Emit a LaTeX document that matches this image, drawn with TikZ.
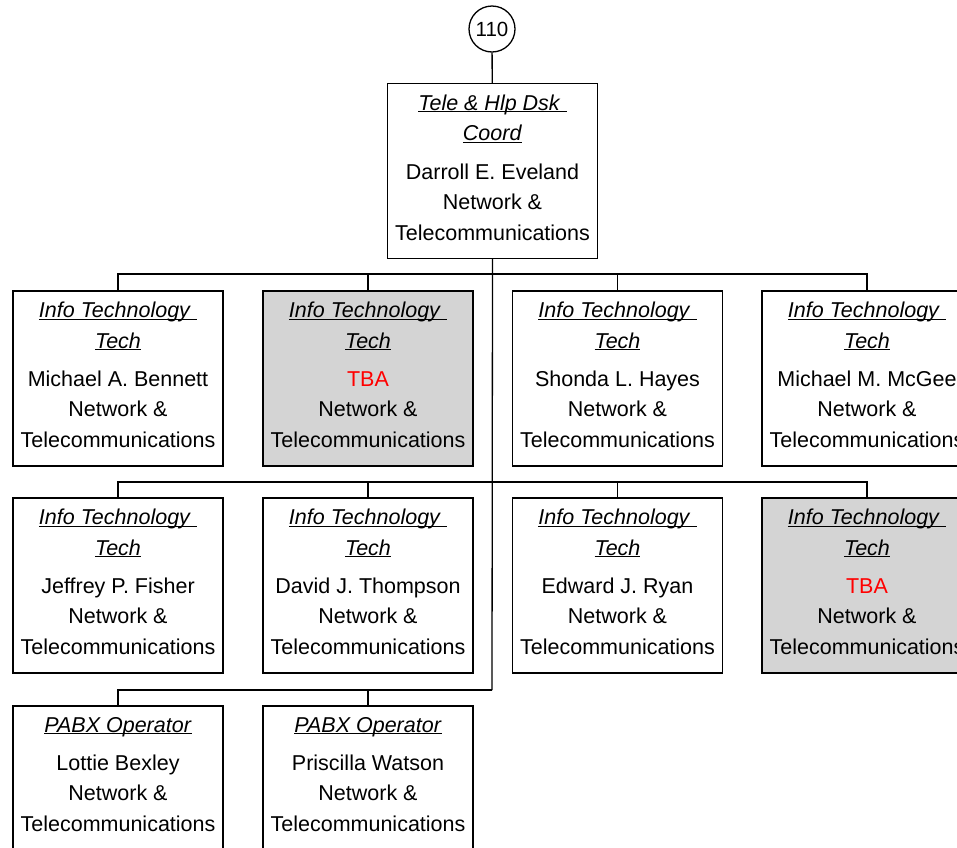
\documentclass[tikz,border=0pt]{standalone}
\usepackage{fontspec}
\setmainfont{Liberation Sans}
\definecolor{vacgray}{RGB}{212,212,212}
\definecolor{tbared}{RGB}{255,0,0}
\tikzset{
  posbox/.style={draw, line width=1.3pt, inner sep=0pt, outer sep=0pt},
  vacbox/.style={posbox, fill=vacgray},
  conn/.style={line width=1.3pt},
}
\newcommand\ttl[1]{\underbar{\textit{#1}}}
\newcommand\boxtext[1]{\parbox[t][175pt][t]{210pt}{\centering\fontsize{21.5}{30.5}\selectfont\vspace*{11pt}#1\par\vfill}}
\newcommand\itt[1]{\boxtext{\ttl{Info Technology\ }\\ \ttl{Tech}\\[7.5pt] #1\\ Network \&\\ Telecommunications}}
\newcommand\pabx[1]{\boxtext{\ttl{PABX Operator}\\[7.5pt] #1\\ Network \&\\ Telecommunications}}
\begin{document}
\begin{tikzpicture}[x=1pt,y=-1pt]
\useasboundingbox (0,0) rectangle (957,847);
\node[circle, draw, line width=1.3pt, minimum size=46pt, inner sep=0pt, font=\fontsize{20.5}{24}\selectfont] (num) at (492,29) {110};
\node[posbox] (top) at (492.5,171) {\boxtext{\ttl{Tele \& Hlp Dsk\ }\\ \ttl{Coord}\\[8pt] Darroll E. Eveland\\ Network \&\\ Telecommunications}};
% row 1
\node[posbox] (a1) at (118,378.5) {\itt{Michael A. Bennett}};
\node[vacbox] (a2) at (368,378.5) {\itt{\textcolor{tbared}{TBA}}};
\node[posbox] (a3) at (617.5,378.5) {\itt{Shonda L. Hayes}};
\node[posbox] (a4) at (867,378.5) {\itt{Michael M. McGee}};
% row 2
\node[posbox] (b1) at (118,585.5) {\itt{Jeffrey P. Fisher}};
\node[posbox] (b2) at (368,585.5) {\itt{David J. Thompson}};
\node[posbox] (b3) at (617.5,585.5) {\itt{Edward J. Ryan}};
\node[vacbox] (b4) at (867,585.5) {\itt{\textcolor{tbared}{TBA}}};
% row 3
\node[posbox] (c1) at (118,793.5) {\pabx{Lottie Bexley}};
\node[posbox] (c2) at (368,793.5) {\pabx{Priscilla Watson}};
% connectors
\coordinate (barA) at (492,274);
\coordinate (barB) at (492,482);
\coordinate (barC) at (492,690);
\draw[conn] (num) -- (top);
\draw[conn] (top.south) -- (barC);
\foreach \n in {a1,a2,a3,a4} \draw[conn] (barA) -| (\n.north);
\foreach \n in {b1,b2,b3,b4} \draw[conn] (barB) -| (\n.north);
\foreach \n in {c1,c2} \draw[conn] (barC) -| (\n.north);
\end{tikzpicture}
\end{document}
